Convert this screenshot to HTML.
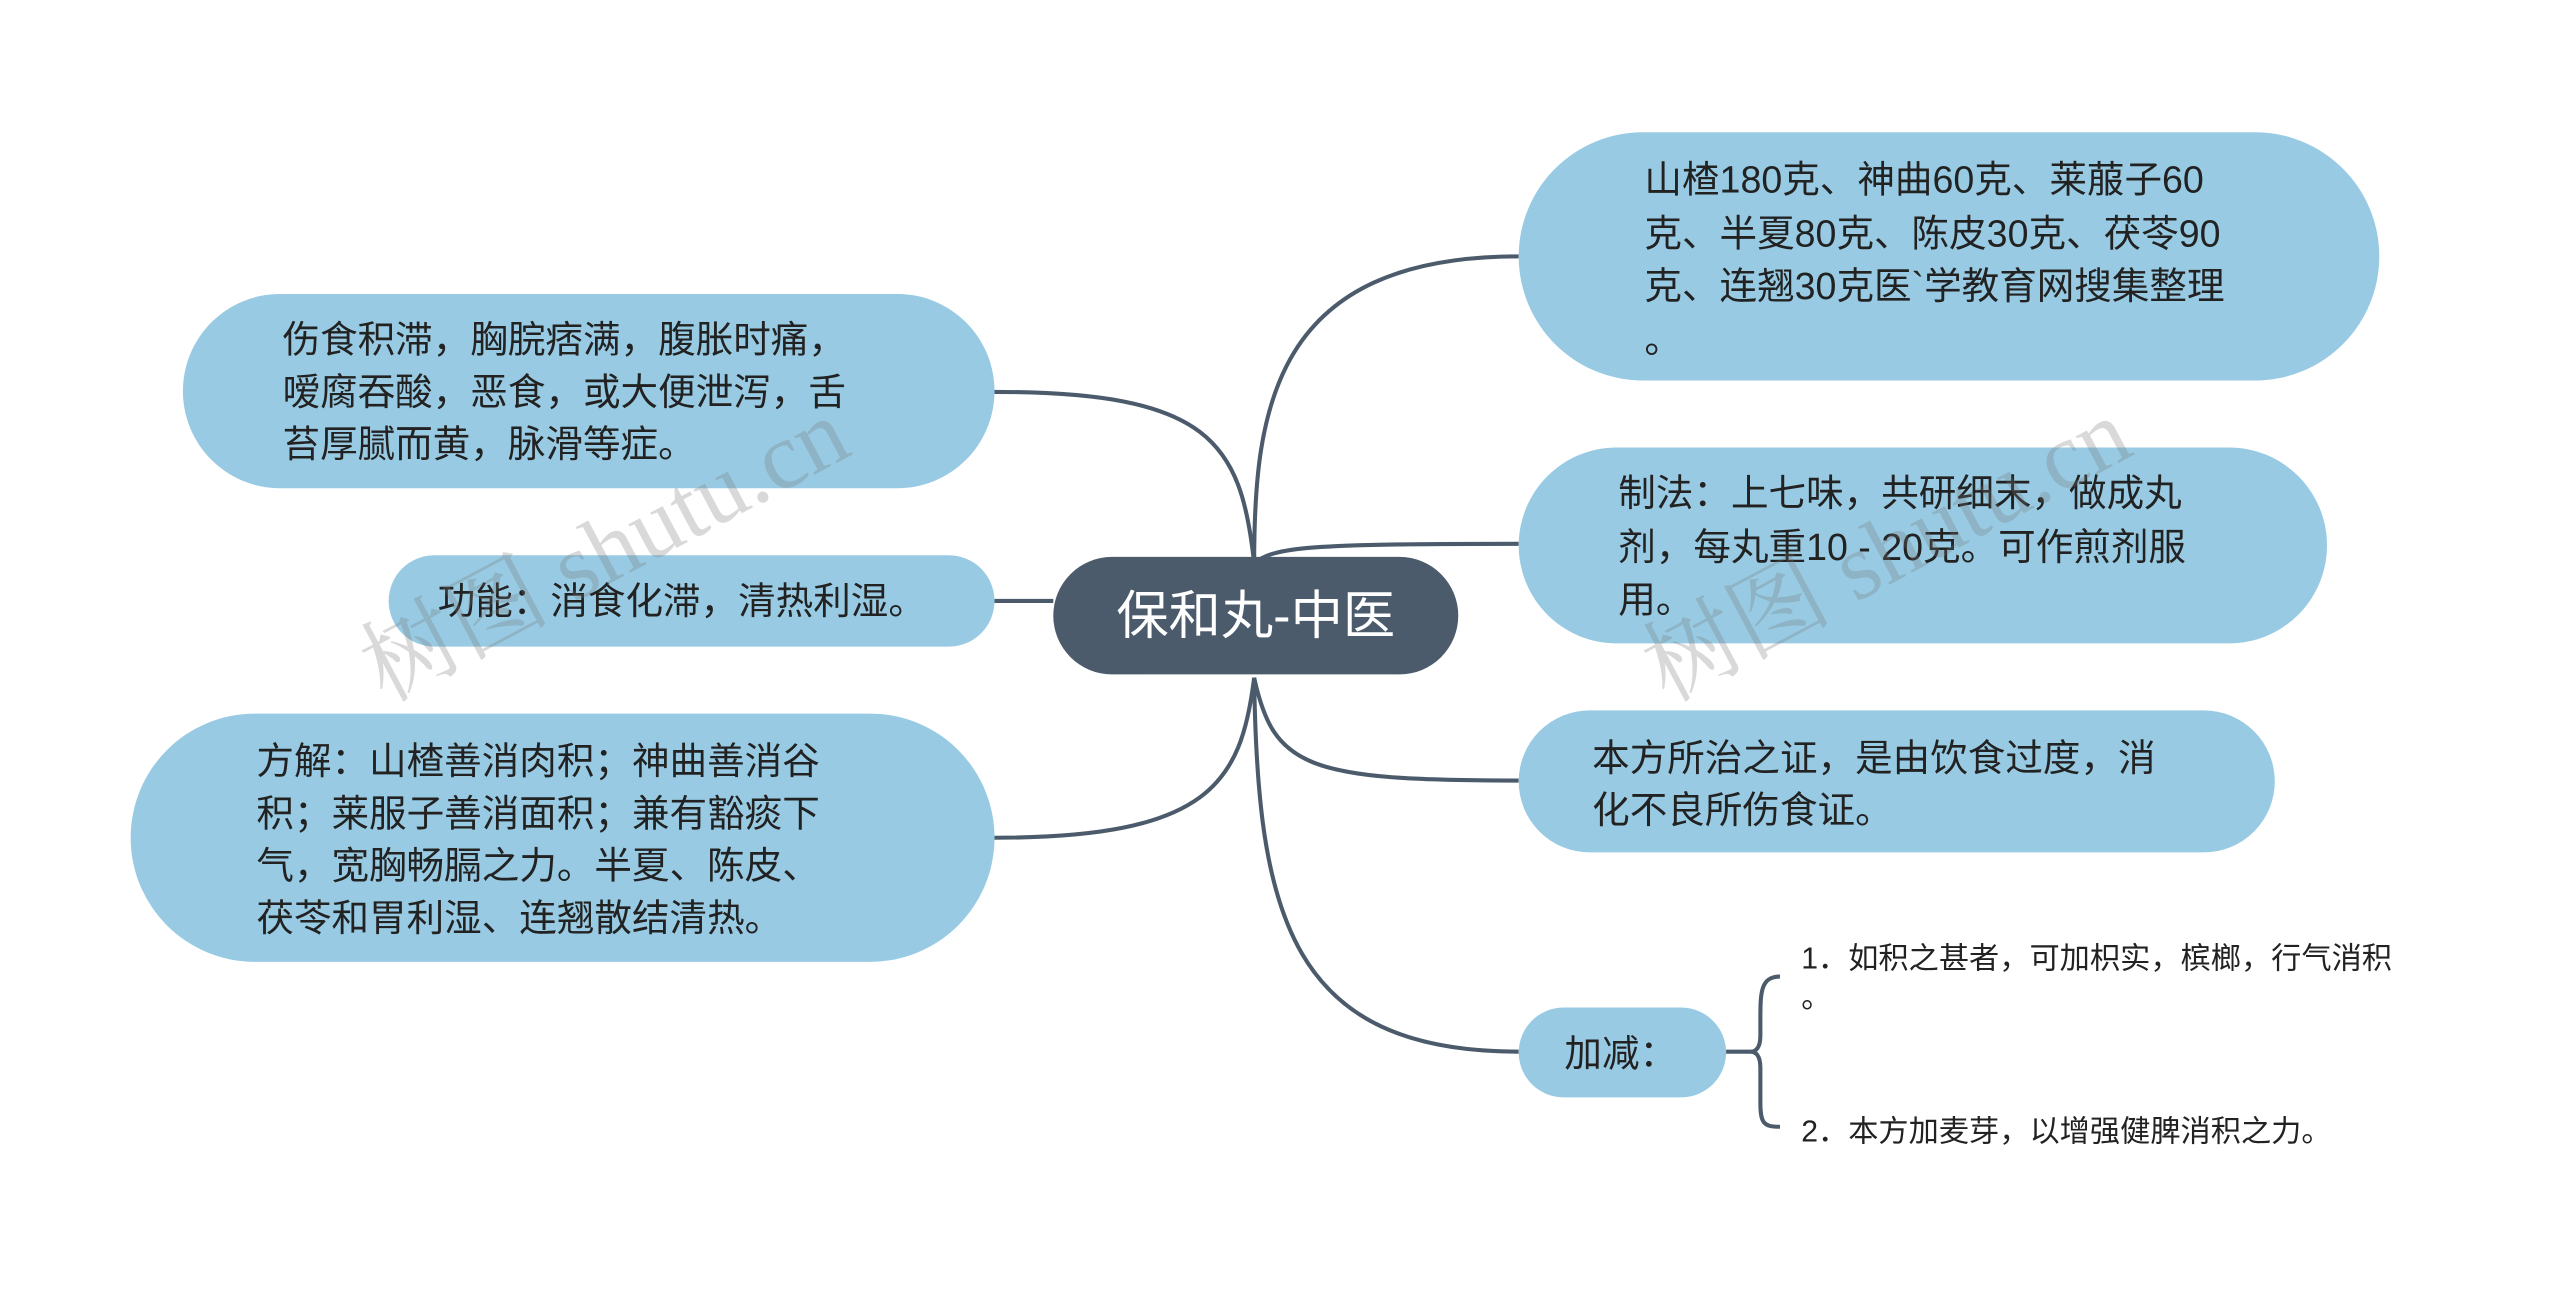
<!DOCTYPE html>
<html><head><meta charset="utf-8">
<style>
html,body{margin:0;padding:0;background:#fff;overflow:hidden;width:2560px;height:1297px}
#w{position:absolute;left:0;top:0;width:1568px;height:794px;transform:scale(1.633);transform-origin:0 0;font-family:"Liberation Sans","Noto Sans CJK SC",sans-serif}
.n{position:absolute;background:#98cbe3;border-radius:60px;box-sizing:border-box;color:#222}
.t{position:absolute;white-space:nowrap;color:#222;font-size:23px;line-height:32px}
.s{position:absolute;white-space:nowrap;font-size:18.5px;color:#222}
.wm{position:absolute;font-family:"Liberation Serif","Noto Serif CJK SC",serif;font-size:58px;color:rgba(120,120,120,0.28);transform:rotate(-28deg);white-space:nowrap}
</style></head><body><div id="w">
<svg width="1568" height="794" style="position:absolute;left:0;top:0" fill="none" stroke="#4b5b6b" stroke-width="2.5">
<path d="M768 345 C768 250 780 157 930 157"/>
<path d="M768 345 C780 335 800 333 930 333"/>
<path d="M768 415 C780 470 800 478 930 478"/>
<path d="M768 415 C770 560 790 644 930 644"/>
<path d="M768 345 C760 270 740 240 609 240"/>
<path d="M645 368 L609 368"/>
<path d="M768 415 C760 480 740 513 609 513"/>
<path d="M1057 644 L1075 644 M1090 598 C1078 598 1078 608 1078 625 L1078 634 C1078 642 1075 644 1072 644 C1075 644 1078 646 1078 654 L1078 675 C1078 688 1080 690 1090 690"/>
</svg>
<div class="n" style="left:645px;top:341px;width:248px;height:72px;background:#4b5b6b;border-radius:36px;color:#fff;font-size:32px;line-height:72px;text-align:center">保和丸-中医</div>

<div class="n" style="left:112px;top:180px;width:497px;height:119px"></div>
<div class="t" style="left:173px;top:192px">伤食积滞，胸脘痞满，腹胀时痛，<br>嗳腐吞酸，恶食，或大便泄泻，舌<br>苔厚腻而黄，脉滑等症。</div>

<div class="n" style="left:238px;top:340px;width:371px;height:56px"></div>
<div class="t" style="left:268px;top:352px">功能：消食化滞，清热利湿。</div>

<div class="n" style="left:80px;top:437px;width:529px;height:152px;border-radius:76px"></div>
<div class="t" style="left:157px;top:450px">方解：山楂善消肉积；神曲善消谷<br>积；莱服子善消面积；兼有豁痰下<br>气，宽胸畅膈之力。半夏、陈皮、<br>茯苓和胃利湿、连翘散结清热。</div>

<div class="n" style="left:930px;top:81px;width:527px;height:152px;border-radius:76px"></div>
<div class="t" style="left:1007px;top:94px;line-height:32.5px">山楂180克、神曲60克、莱菔子60<br>克、半夏80克、陈皮30克、茯苓90<br>克、连翘30克医`学教育网搜集整理<br>。</div>

<div class="n" style="left:930px;top:274px;width:495px;height:120px"></div>
<div class="t" style="left:991px;top:286px;line-height:32.5px">制法：上七味，共研细末，做成丸<br>剂，每丸重10 - 20克。可作煎剂服<br>用。</div>

<div class="n" style="left:930px;top:435px;width:463px;height:87px;border-radius:44px"></div>
<div class="t" style="left:975px;top:448px">本方所治之证，是由饮食过度，消<br>化不良所伤食证。</div>

<div class="n" style="left:930px;top:617px;width:127px;height:55px;border-radius:28px"></div>
<div class="t" style="left:958px;top:629px">加减：</div>

<div class="s" style="left:1103px;top:575px;line-height:24px">1．如积之甚者，可加枳实，槟榔，行气消积<br>。</div>
<div class="s" style="left:1103px;top:681px;line-height:24px">2．本方加麦芽，以增强健脾消积之力。</div>

<div class="wm" style="left:205px;top:290px">树图 shutu.cn</div>
<div class="wm" style="left:990px;top:290px">树图 shutu.cn</div>
</div></body></html>
